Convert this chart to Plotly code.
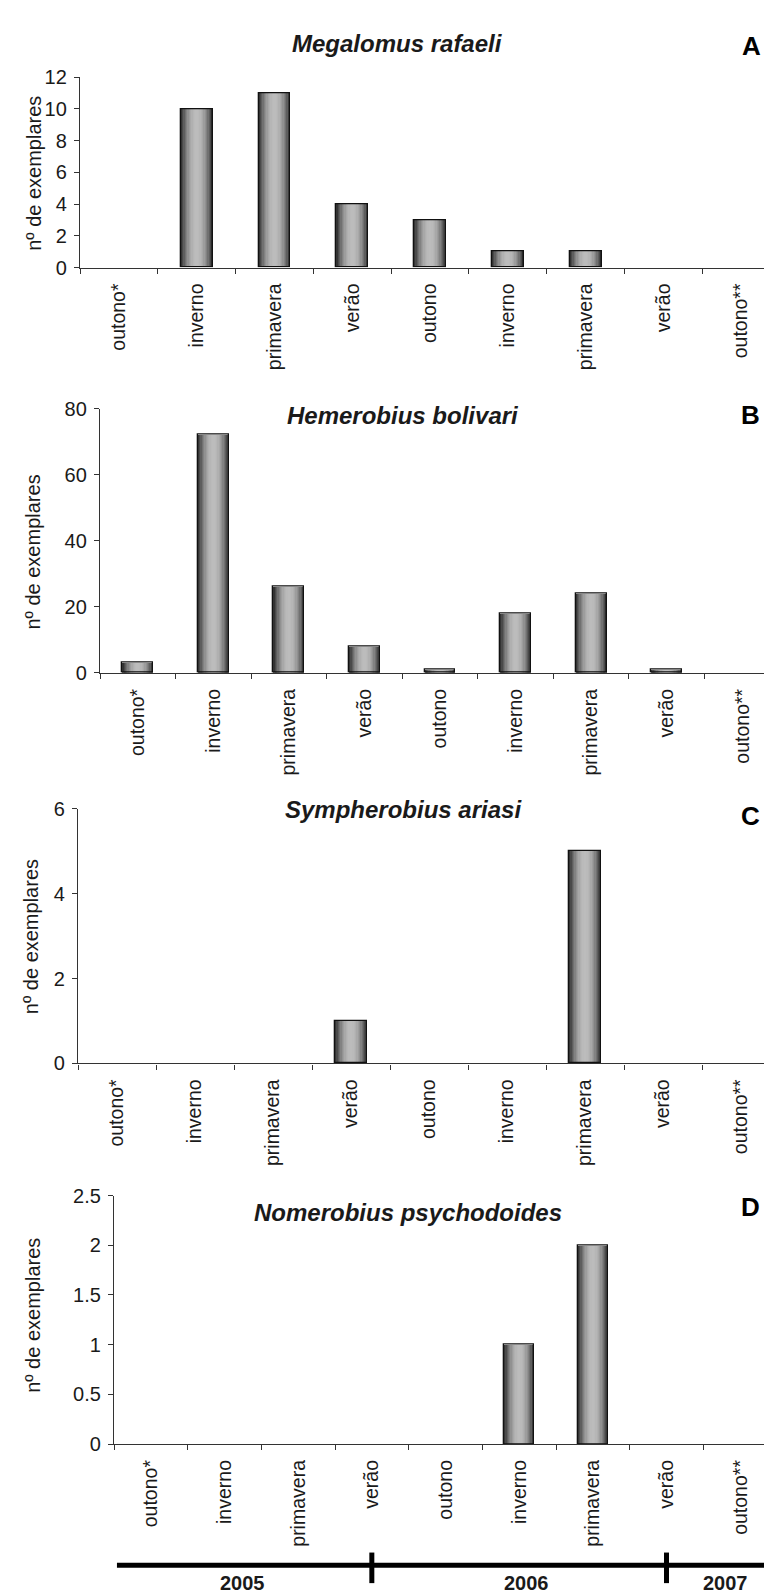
import plotly.graph_objects as go

# ---------------- data ----------------
seasons = ["outono*", "inverno", "primavera", "verão", "outono",
           "inverno", "primavera", "verão", "outono**"]
panel_titles = ["Megalomus rafaeli", "Hemerobius bolivari",
                "Sympherobius ariasi", "Nomerobius psychodoides"]
panel_letters = ["A", "B", "C", "D"]
values_a = [0, 10, 11, 4, 3, 1, 1, 0, 0]
values_b = [3, 72, 26, 8, 1, 18, 24, 1, 0]
values_c = [0, 0, 0, 1, 0, 0, 5, 0, 0]
values_d = [0, 0, 0, 0, 0, 1, 2, 0, 0]
y_max = [12, 80, 6, 2.5]
y_step = [2, 20, 2, 0.5]
y_label = "nº de exemplares"
years = ["2005", "2006", "2007"]
year_marks = [3, 7]              # category index where a new year starts
year_label_pos = [1.25, 5.1, 7.8]

# ---------------- layout helpers (pixels) ----------------
W, H = 772, 1595
boxes = [(72, 772, 59, 252), (92, 772, 395, 663), (70, 772, 801, 1059), (106, 769, 1193, 1445)]
title_pos = [(389, 25), (395, 402), (395, 802), (400, 1210)]
letter_pos = [(743, 27), (742, 402), (742, 808), (742, 1205)]
ylabel_pos = [(26, 157), (25, 541), (23, 931), (25, 1315)]

FONT = "Liberation Sans, Arial, sans-serif"
TXT = "#1a1a1a"
AX = "#333333"

def px(x):
    return x / W

def py(y):
    return 1 - y / H

all_values = [values_a, values_b, values_c, values_d]
xs = list(range(len(seasons)))

fig = go.Figure()

BAR_W = 0.41
N = 12
light, dark = 0.74, 0.15

for i, vals in enumerate(all_values):
    n = "" if i == 0 else str(i + 1)
    xa, ya = "x" + n, "y" + n
    # gradient bars: nested overlay bars
    for k in range(N):
        d = (N - k - 0.5) / N
        g = light - (light - dark) * d ** 2.0
        c = int(round(g * 255))
        fig.add_trace(go.Bar(
            x=xs, y=vals, width=BAR_W * (N - k) / N,
            marker=dict(color=f"rgb({c},{c},{c})", line=dict(width=0)),
            xaxis=xa, yaxis=ya, showlegend=False, hoverinfo="skip"))
    # outline (none for empty categories)
    fig.add_trace(go.Bar(
        x=xs, y=vals, width=BAR_W,
        marker=dict(color="rgba(0,0,0,0)",
                    line=dict(width=[1.3 if v > 0 else 0 for v in vals], color="#111111")),
        xaxis=xa, yaxis=ya, showlegend=False,
        hovertemplate="%{y}<extra></extra>"))

    x0, x1, y0, y1 = boxes[i]
    fig.update_layout(**{
        "xaxis" + n: dict(
            domain=[px(x0), px(x1)], anchor=ya, range=[-0.5, len(seasons) - 0.5],
            tickmode="array", tickvals=xs, ticktext=seasons, tickangle=-90,
            ticks="", showline=True, linecolor=AX, linewidth=1.3,
            showgrid=False, zeroline=False,
            tickfont=dict(family=FONT, size=19.5, color=TXT), ticklabelstandoff=7,
            minor=dict(tickmode="array", tickvals=[k - 0.5 for k in range(len(seasons) + 1)],
                       ticks="outside", ticklen=5, tickwidth=1.3, tickcolor=AX, showgrid=False),
            fixedrange=True),
        "yaxis" + n: dict(
            domain=[py(y1), py(y0)], anchor=xa, range=[0, y_max[i]],
            tick0=0, dtick=y_step[i], ticks="outside", ticklen=5, tickwidth=1.3,
            tickcolor=AX, showline=True, linecolor=AX, linewidth=1.3,
            showgrid=False, zeroline=False,
            tickfont=dict(family=FONT, size=20, color=TXT), ticklabelstandoff=3,
            fixedrange=True),
    })

    tx, ty = title_pos[i]
    fig.add_annotation(text=f"<b><i>{panel_titles[i]}</i></b>", x=px(tx), y=py(ty),
                       xref="paper", yref="paper", showarrow=False,
                       xanchor="center", yanchor="middle",
                       font=dict(family=FONT, size=24, color=TXT))
    lx, ly = letter_pos[i]
    fig.add_annotation(text=f"<b>{panel_letters[i]}</b>", x=px(lx), y=py(ly),
                       xref="paper", yref="paper", showarrow=False,
                       xanchor="center", yanchor="middle",
                       font=dict(family=FONT, size=26, color="#000000"))
    yx, yy = ylabel_pos[i]
    fig.add_annotation(text=y_label, x=px(yx), y=py(yy), textangle=-90,
                       xref="paper", yref="paper", showarrow=False,
                       xanchor="center", yanchor="middle",
                       font=dict(family=FONT, size=20, color=TXT))

# ---------------- timeline under panel D ----------------
fig.add_shape(type="line", xref="x4", yref="paper",
              x0=-0.46, x1=8.56, y0=py(1568), y1=py(1568),
              line=dict(color="#000000", width=5))
for m in year_marks:
    fig.add_shape(type="line", xref="x4", yref="paper",
                  x0=m, x1=m, y0=py(1555), y1=py(1586),
                  line=dict(color="#000000", width=5))
for yr, pos in zip(years, year_label_pos):
    fig.add_annotation(text=f"<b>{yr}</b>", x=pos, y=py(1586), xref="x4", yref="paper",
                       showarrow=False, xanchor="center", yanchor="middle",
                       font=dict(family=FONT, size=20, color=TXT))

fig.update_layout(width=W, height=H, margin=dict(l=0, r=0, t=0, b=0),
                  paper_bgcolor="white", plot_bgcolor="white",
                  barmode="overlay", bargap=0, showlegend=False)

fig.write_html("out.html")
